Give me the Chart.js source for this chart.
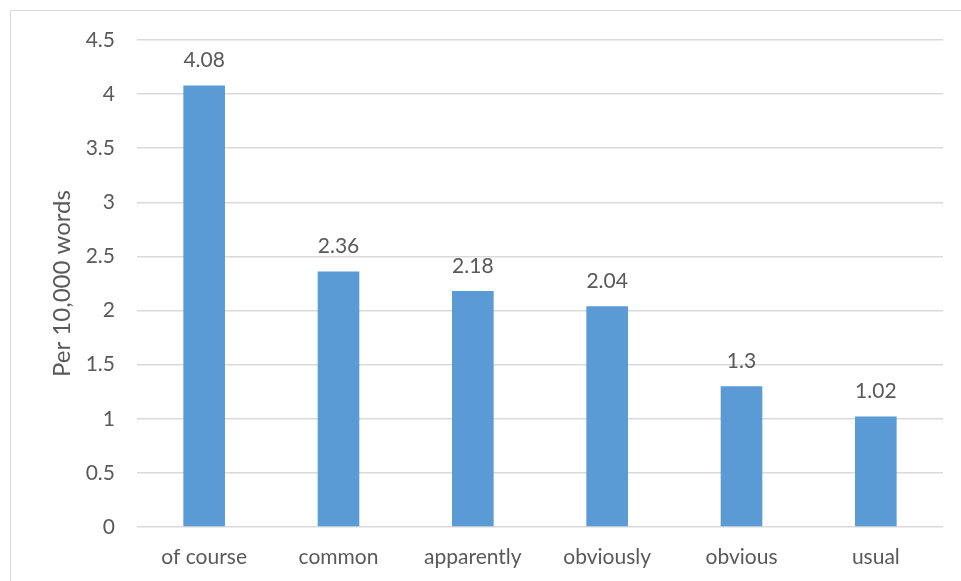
<!DOCTYPE html>
<html>
<head>
<meta charset="utf-8">
<script src="https://cdn.jsdelivr.net/npm/chart.js@4/dist/chart.umd.min.js"></script>
<style>
  html, body { margin: 0; padding: 0; background: #fff; overflow: hidden; }
  #frame { position: absolute; left: 10px; top: 10px; width: 1000px; height: 700px;
           border: 1.5px solid #d9d9d9; box-sizing: border-box; }
  #wrap { position: absolute; left: 0; top: 0; width: 961px; height: 581px; }
</style>
</head>
<body>
<div id="frame"></div>
<div id="wrap"><canvas id="chart"></canvas></div>
<script>
const categories = ['of course', 'common', 'apparently', 'obviously', 'obvious', 'usual'];
const frequencies = [4.08, 2.36, 2.18, 2.04, 1.3, 1.02];
const yTickValues = [0, 0.5, 1, 1.5, 2, 2.5, 3, 3.5, 4, 4.5];

const TEXT = '#595959';
const FONT = "Lato, 'Open Sans', sans-serif";
const SIZE = 21;

// Writes each bar's value above it, placed from the bar element itself
const valueLabels = {
  id: 'valueLabels',
  afterDatasetsDraw(chart) {
    const ctx = chart.ctx;
    const meta = chart.getDatasetMeta(0);
    ctx.save();
    ctx.fillStyle = TEXT;
    ctx.font = SIZE + 'px ' + FONT;
    ctx.textAlign = 'center';
    ctx.textBaseline = 'middle';
    meta.data.forEach((bar, i) => {
      ctx.fillText(String(chart.data.datasets[0].data[i]), bar.x, bar.y - 25);
    });
    ctx.restore();
  }
};

new Chart(document.getElementById('chart'), {
  type: 'bar',
  data: {
    labels: categories,
    datasets: [{
      data: frequencies,
      backgroundColor: '#5b9bd5',
      borderWidth: 0,
      categoryPercentage: 1,
      barPercentage: 0.31
    }]
  },
  options: {
    responsive: true,
    maintainAspectRatio: false,
    animation: false,
    devicePixelRatio: 1,
    layout: { padding: { left: 48, right: 18, top: 40, bottom: 0 } },
    plugins: { legend: { display: false }, tooltip: { enabled: false } },
    scales: {
      x: {
        grid: { display: false },
        border: { display: false },
        ticks: { color: TEXT, font: { family: FONT, size: SIZE }, padding: 10, maxRotation: 0 },
        afterFit(scale) { scale.height = 54; }
      },
      y: {
        min: 0,
        max: 4.5,
        afterBuildTicks(scale) { scale.ticks = yTickValues.map(v => ({ value: v })); },
        grid: { color: '#d9d9d9', lineWidth: 1.5, drawTicks: false },
        border: { display: false },
        ticks: { color: TEXT, font: { family: FONT, size: SIZE }, padding: 22,
                 callback: v => String(v) },
        title: { display: true, text: 'Per 10,000 words', color: TEXT,
                 font: { family: FONT, size: 24 }, padding: { top: 0, bottom: 10 } },
        afterFit(scale) { scale.width = 89; }
      }
    }
  },
  plugins: [valueLabels]
});
</script>
</body>
</html>
